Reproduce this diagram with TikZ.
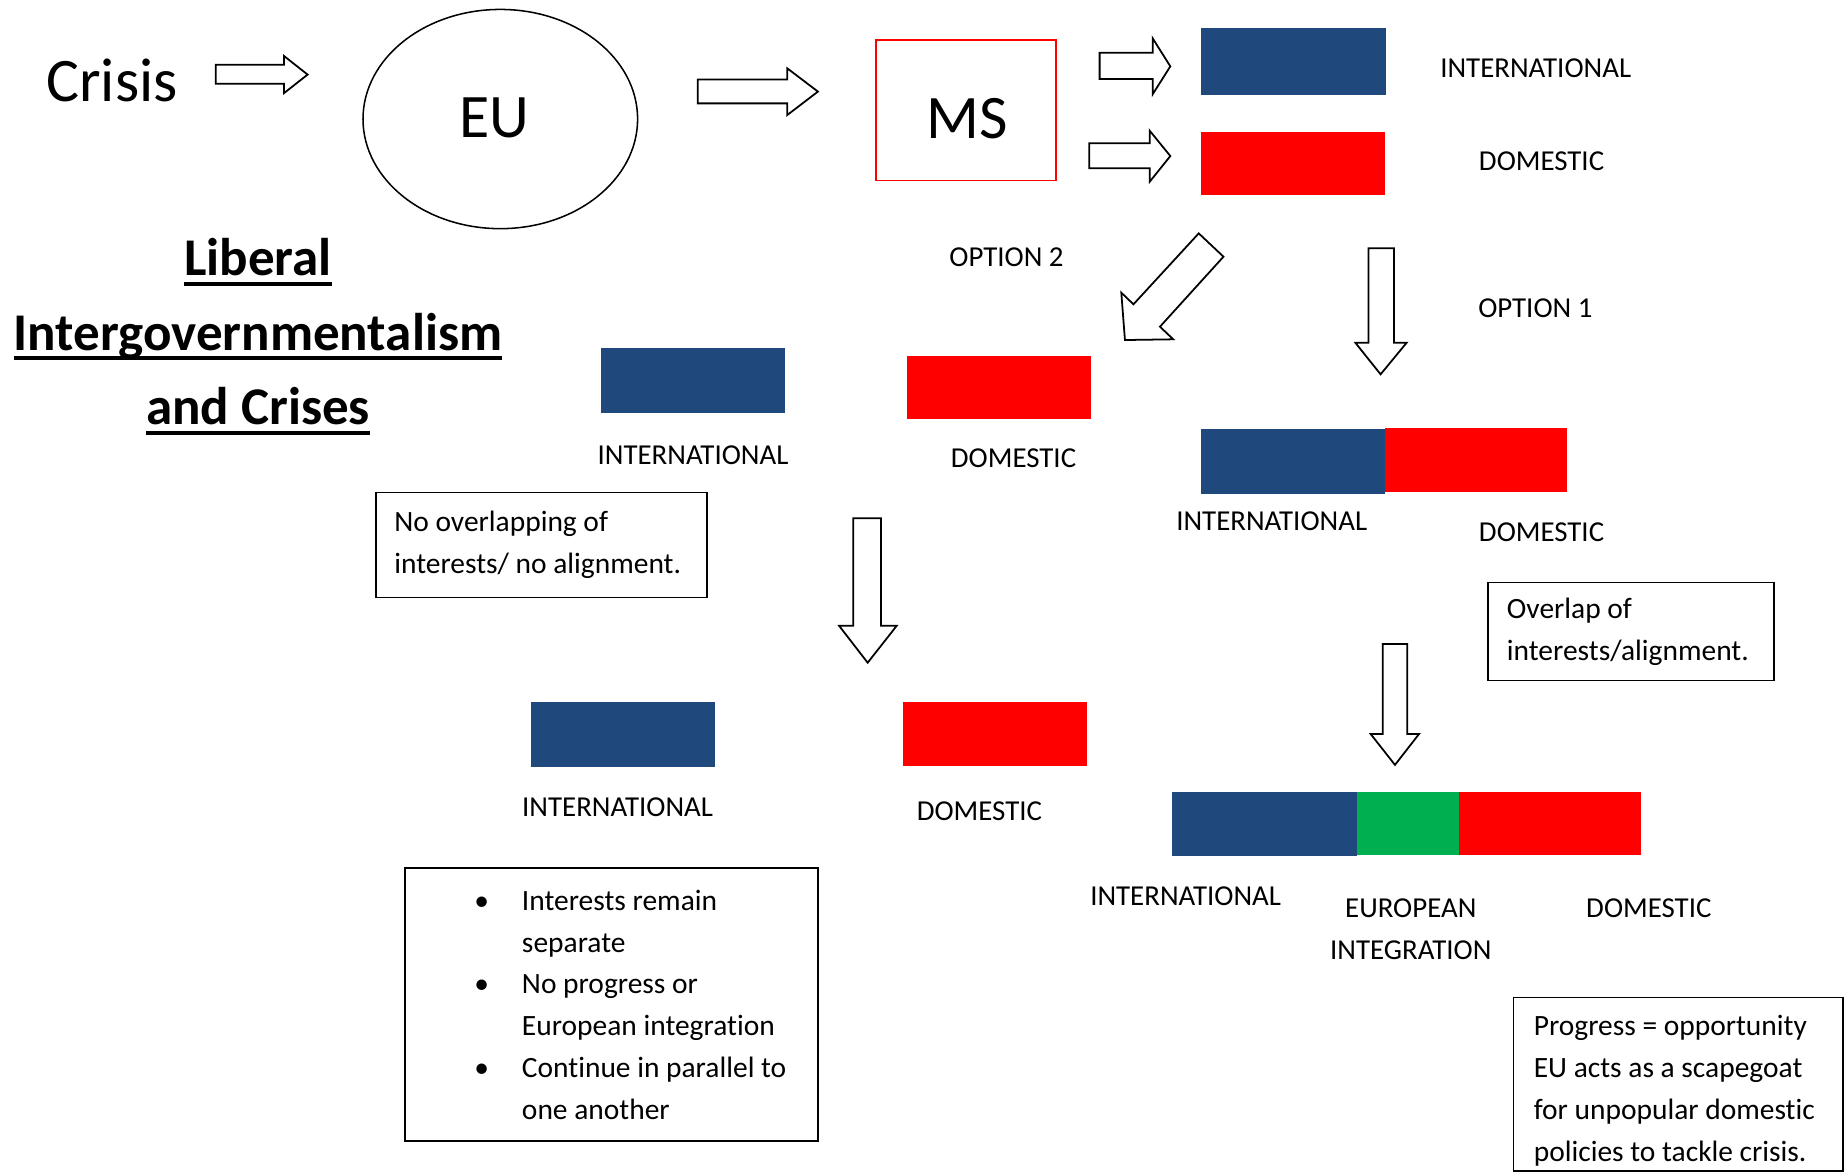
\documentclass[tikz,border=0pt]{standalone}
\usepackage{fontspec}
\setmainfont{Carlito}[Ligatures=NoCommon]
\usetikzlibrary{shapes.geometric}
\definecolor{ibl}{RGB}{31,73,125}
\definecolor{dred}{RGB}{255,0,0}
\definecolor{egr}{RGB}{0,176,80}
\newcommand\myulbold[1]{\setbox0\hbox{#1}\rlap{\rule[-8.5pt]{\wd0}{3.3pt}}\box0}
\begin{document}
\begin{tikzpicture}[x=1pt,y=-1pt,
  lab/.style={font=\fontsize{24.5}{35.5}\selectfont, inner sep=0pt, align=center},
  big/.style={font=\fontsize{52.5}{60}\selectfont, inner sep=0pt},
  ttl/.style={font=\fontsize{45}{63}\selectfont\bfseries, inner sep=0pt, anchor=base},
  txt/.style={font=\fontsize{25}{35.5}\selectfont, inner sep=0pt, align=left, anchor=west},
  bar/.style={inner sep=0pt, outer sep=0pt, draw=none},
  tbox/.style={draw=black, line width=1.2pt, inner sep=0pt},
  blockarr/.style={draw=black, line width=1.5pt, fill=white, line join=miter}]
\useasboundingbox (0,0) rectangle (1568,994);

% ---- top row ----
\node[big] (crisis) at (95,68.4) {Crisis};
\node[draw=black, line width=1.3pt, ellipse, minimum width=233pt, minimum height=186pt, inner sep=0pt] (eu) at (424.5,101) {};
\node[big] (eut) at (419.5,100.4) {EU};
\node[draw=dred, line width=1.4pt, minimum width=153pt, minimum height=119pt, inner sep=0pt] (ms) at (819.5,93.5) {};
\node[big] (mst) at (821,100.7) {MS};

\draw[blockarr] (183,55) -- (241,55) -- (241,47.5) -- (261,63.3) -- (241,79) -- (241,71) -- (183,71) -- cycle;
\draw[blockarr] (592,67.4) -- (668,67.4) -- (668,58) -- (694,77.7) -- (668,97.6) -- (668,87.7) -- (592,87.7) -- cycle;
\draw[blockarr] (933,44.7) -- (978,44.7) -- (978,32.5) -- (993,56.3) -- (978,80) -- (978,67) -- (933,67) -- cycle;
\draw[blockarr] (924.2,121.6) -- (975.5,121.6) -- (975.5,110.9) -- (993,132.4) -- (975.5,154.2) -- (975.5,142.8) -- (924.2,142.8) -- cycle;

\node[bar, fill=ibl, minimum width=157pt, minimum height=56.5pt] (i1) at (1097.5,52) {};
\node[bar, fill=dred, minimum width=156.5pt, minimum height=53.8pt] (d1) at (1097.25,138.6) {};
\node[lab] (li1) at (1303,58) {INTERNATIONAL};
\node[lab] (ld1) at (1308,136.6) {DOMESTIC};

% ---- title ----
\node[ttl] (t1) at (219,234) {\myulbold{Liberal}};
\node[ttl] (t2) at (219,297) {\myulbold{Intergovernmentalism}};
\node[ttl] (t3) at (219,360.5) {\myulbold{and Crises}};

% ---- options ----
\node[lab] (opt2) at (854,218) {OPTION 2};
\node[lab] (opt1) at (1302.7,261.6) {OPTION 1};
\draw[blockarr] (1017.1,198) -- (961.7,258.2) -- (951.4,248.3) -- (954.5,288.5) -- (995.5,287.9) -- (984.2,277.2) -- (1038.1,217.8) -- cycle;
\draw[blockarr] (1161.2,210.7) -- (1182.8,210.7) -- (1182.8,290.8) -- (1193.5,290.8) -- (1171.4,317.6) -- (1150,290.8) -- (1161.2,290.8) -- cycle;

% ---- option 2 branch ----
\node[bar, fill=ibl, minimum width=156pt, minimum height=54.4pt] (i2) at (588,322.8) {};
\node[bar, fill=dred, minimum width=156pt, minimum height=54pt] (d2) at (847.8,328.8) {};
\node[lab] (li2) at (588,386) {INTERNATIONAL};
\node[lab] (ld2) at (860,389) {DOMESTIC};
\node[tbox, minimum width=281pt, minimum height=89pt] (nb) at (459.5,462.5) {};
\node[txt] (nbt) at ([xshift=16pt]nb.west) {No overlapping of\\interests/ no alignment.};
\draw[blockarr] (724,439.8) -- (747.5,439.8) -- (747.5,531) -- (760.8,531) -- (736.2,562.3) -- (712,531) -- (724,531) -- cycle;
\node[bar, fill=ibl, minimum width=156.5pt, minimum height=54.5pt] (i4) at (528.75,623.25) {};
\node[bar, fill=dred, minimum width=156pt, minimum height=54.4pt] (d4) at (844,622.5) {};
\node[lab] (li4) at (524,685) {INTERNATIONAL};
\node[lab] (ld4) at (831,688) {DOMESTIC};
\node[tbox, line width=1.6pt, minimum width=350.7pt, minimum height=231.4pt] (bb) at (518.95,852.5) {};
\node[txt] (bbt) at ([xshift=59.4pt]bb.west) {\makebox[40.5pt][l]{\textbullet}Interests remain\\
\hspace*{40.5pt}separate\\
\makebox[40.5pt][l]{\textbullet}No progress or\\
\hspace*{40.5pt}European integration\\
\makebox[40.5pt][l]{\textbullet}Continue in parallel to\\
\hspace*{40.5pt}one another};

% ---- option 1 branch ----
\node[bar, fill=ibl, minimum width=156.5pt, minimum height=55.5pt] (i3) at (1097.25,391.75) {};
\node[bar, fill=dred, minimum width=154pt, minimum height=54pt] (d3) at (1252.5,390.5) {};
\node[lab] (li3) at (1079,442) {INTERNATIONAL};
\node[lab] (ld3) at (1308,452) {DOMESTIC};
\node[tbox, minimum width=242.9pt, minimum height=82.9pt] (ob) at (1383.85,535.85) {};
\node[txt] (obt) at ([xshift=16.6pt]ob.west) {Overlap of\\interests/alignment.};
\draw[blockarr] (1173.2,546.4) -- (1194.1,546.4) -- (1194.1,622.8) -- (1204,622.8) -- (1183.6,649) -- (1163,622.8) -- (1173.2,622.8) -- cycle;
\node[bar, fill=ibl, minimum width=156.5pt, minimum height=54.4pt] (i5) at (1072.75,699.5) {};
\node[bar, fill=egr, minimum width=86.7pt, minimum height=53.2pt] (g5) at (1194.35,698.9) {};
\node[bar, fill=dred, minimum width=154.3pt, minimum height=53.2pt] (r5) at (1314.85,698.9) {};
\node[lab] (li5) at (1006,760) {INTERNATIONAL};
\node[lab] (le5) at (1197,788.5) {EUROPEAN\\INTEGRATION};
\node[lab] (ld5) at (1399,771) {DOMESTIC};
\node[tbox, line width=1.6pt, minimum width=279.4pt, minimum height=147.2pt] (pb) at (1423.9,919.9) {};
\node[txt] (pbt) at ([xshift=17.8pt,yshift=-5.6pt]pb.west) {Progress = opportunity\\EU acts as a scapegoat\\for unpopular domestic\\policies to tackle crisis.};
\end{tikzpicture}
\end{document}
